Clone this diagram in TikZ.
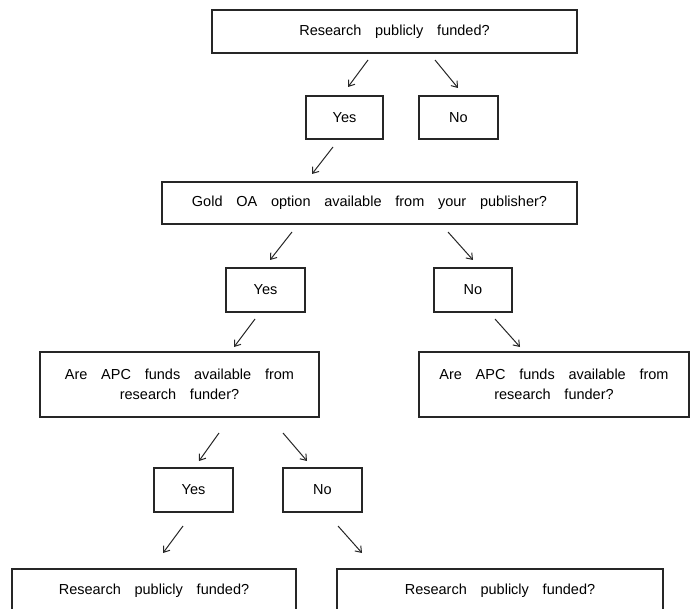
\documentclass[tikz,border=0pt]{standalone}
\usepackage{fontspec}
\setmainfont{Liberation Sans}
\usepackage{tikz}
\usetikzlibrary{arrows.meta}

\tikzset{
  qbox/.style={draw=black!85, line width=1.3pt, rectangle, align=center,
    minimum height=43pt, inner sep=0pt,
    font={\fontsize{14.5}{20}\selectfont\spaceskip=0.95em\relax}},
  arr/.style={draw=black!85, line width=1pt, -{Straight Barb[length=5.5pt,width=8pt]}}
}

\begin{document}
\begin{tikzpicture}[x=1pt, y=-1pt]
\useasboundingbox (0,0) rectangle (690,609);
\clip (0,0) rectangle (690,609);

% First question
\node[qbox, minimum width=365pt] (fund) at (394.5,31.5) {Research publicly funded?};
\node[qbox, minimum width=77pt] (fundyes) at (344.5,117.5) {Yes};
\node[qbox, minimum width=79pt] (fundno) at (458.5,117.5) {No};

% Gold OA
\node[qbox, minimum width=415pt, minimum height=42pt] (gold) at (369.5,203) {Gold OA option available from your publisher?};
\node[qbox, minimum width=79pt, minimum height=44pt] (goldyes) at (265.5,290) {Yes};
\node[qbox, minimum width=78pt, minimum height=44pt] (goldno) at (473,290) {No};

% APC funds
\node[qbox, minimum width=279pt, minimum height=65pt] (apcl) at (179.5,384.5) {Are APC funds available from\\research funder?};
\node[qbox, minimum width=270pt, minimum height=65pt] (apcr) at (554,384.5) {Are APC funds available from\\research funder?};
\node[qbox, minimum width=79pt, minimum height=44pt] (apcyes) at (193.5,490) {Yes};
\node[qbox, minimum width=79pt, minimum height=44pt] (apcno) at (322.5,490) {No};

% Last row
\node[qbox, minimum width=284pt, minimum height=44pt] (lastl) at (154,591) {Research publicly funded?};
\node[qbox, minimum width=326pt, minimum height=44pt] (lastr) at (500,591) {Research publicly funded?};

% Arrows
\foreach \n/\sx/\sy/\ex/\ey in {1/368/60/348/87, 2/435/60/458/88, 3/333/147/312/174,
    4/292/232/270/260, 5/448/232/473/260, 6/255/319/234/347, 7/495/319/520/347,
    8/219/433/199/461, 9/283/433/307/461, 10/183/526/163/553, 11/338/526/362/553} {
  \coordinate (s\n) at (\sx,\sy);
  \coordinate (e\n) at (\ex,\ey);
  \draw[arr] (s\n) -- (e\n);
}

\end{tikzpicture}
\end{document}
